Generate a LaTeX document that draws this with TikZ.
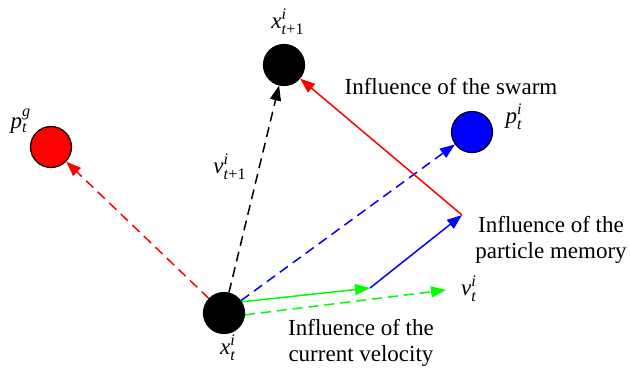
\documentclass[tikz,border=0pt]{standalone}
\usepackage{amsmath}
\usepackage{fontspec}
\setmainfont{Liberation Serif}
\usetikzlibrary{arrows.meta}
\newcommand{\myvar}[3]{$\textit{#1}^{\textit{#2}}_{\textit{#3}}$}
\definecolor{pgreen}{RGB}{0,255,0}
\definecolor{pblue}{RGB}{0,0,255}
\definecolor{pred}{RGB}{255,0,0}
\begin{document}
\begin{tikzpicture}[x=0.5pt,y=-0.5pt,
  ball/.style={circle,draw=black,line width=0.6pt,inner sep=0pt,minimum size=20.5pt},
  conn/.style={line width=0.75pt,-{Triangle[length=7.5pt,width=5.5pt]}},
  dsh/.style={dash pattern=on 5pt off 3pt},
  lbl/.style={font=\fontsize{11.5}{13}\selectfont,inner sep=0pt},
  txt/.style={font=\fontsize{11.5}{13}\selectfont,align=center,inner sep=0pt}]
\useasboundingbox (0,0) rectangle (630,371);
\node[ball,fill=black] (xt) at (224,313) {};
\node[ball,fill=black] (xt1) at (284,65) {};
\node[ball,fill=pred] (pg) at (51,147) {};
\node[ball,fill=pblue] (pi) at (472,132) {};
\coordinate (A) at (370,288);
\coordinate (B) at (462,215);
\coordinate (vt) at (446,290);
% labels
\node[lbl] (lxt) at (228,348) {\myvar{x}{i}{t}};
\node[lbl] (lxt1) at (288,22) {\myvar{x}{i}{t\textup{+1}}};
\node[lbl] (lpg) at (21,121) {\myvar{p}{g}{t}};
\node[lbl] (lpi) at (514,117) {\myvar{p}{i}{t}};
\node[lbl] (lv1) at (230,167) {\myvar{v}{i}{t\textup{+1}}};
\node[lbl] (lvt) at (469,289) {\myvar{v}{i}{t}};
\node[txt] (swarm) at (451,87) {Influence of the swarm};
\node[txt] (memory) at (551,240) {Influence of the\\particle memory};
\node[txt] (velocity) at (361,343) {Influence of the\\current velocity};
% connectors
\draw[conn,dsh,pred] (xt) -- (pg);
\draw[conn,dsh,black] (xt) -- (xt1);
\draw[conn,dsh,pblue] (xt) -- (pi);
\draw[conn,dsh,pgreen] (xt.-5) -- (vt);
\draw[conn,pgreen] (xt.32) -- (A);
\draw[conn,pblue] (A) -- (B);
\draw[conn,pred] (B) -- (xt1);
\end{tikzpicture}
\end{document}
